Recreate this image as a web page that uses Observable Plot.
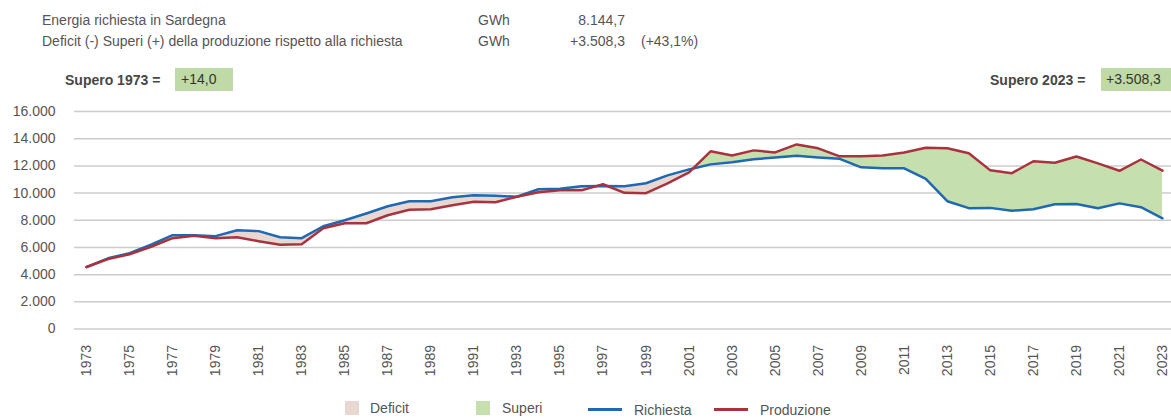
<!DOCTYPE html>
<html>
<head>
<meta charset="utf-8">
<script src="https://cdn.jsdelivr.net/npm/d3@7"></script>
<script src="https://cdn.jsdelivr.net/npm/@observablehq/plot@0.6"></script>
<style>
  html, body { margin: 0; padding: 0; background: #fff; }
  #wrap { position: relative; width: 1171px; height: 418px; overflow: hidden;
          font-family: "Liberation Sans", Arial, sans-serif; color: #555; font-size: 14px; }
  .t { position: absolute; line-height: 16px; white-space: nowrap; }
  .box { position: absolute; background: #bfdaa6; color: #333; line-height: 23px; height: 23px; }
  .sup { font-weight: bold; color: #474747; }
  .sw { position: absolute; width: 14px; height: 14px; }
  .ln { position: absolute; height: 3px; width: 34px; }
  #chart { position: absolute; left: 0; top: 95px; }
</style>
</head>
<body>
<div id="wrap">
  <div class="t" style="left:42px; top:12px;">Energia richiesta in Sardegna</div>
  <div class="t" style="left:478px; top:12px;">GWh</div>
  <div class="t" style="left:540px; top:12px; width:85px; text-align:right;">8.144,7</div>
  <div class="t" style="left:42px; top:33px;">Deficit (-) Superi (+) della produzione rispetto alla richiesta</div>
  <div class="t" style="left:478px; top:33px;">GWh</div>
  <div class="t" style="left:540px; top:33px; width:85px; text-align:right;">+3.508,3</div>
  <div class="t" style="left:641px; top:33px;">(+43,1%)</div>

  <div class="t sup" style="left:65px; top:72px;">Supero 1973 =</div>
  <div class="box" style="left:175px; top:68px; width:58px;"><span style="padding-left:6px">+14,0</span></div>
  <div class="t sup" style="left:990px; top:72px;">Supero 2023 =</div>
  <div class="box" style="left:1101px; top:68px; width:80px;"><span style="padding-left:5px">+3.508,3</span></div>

  <div id="chart"></div>

  <div class="sw" style="left:345px; top:401px; background:#e9d8d2;"></div>
  <div class="t" style="left:370px; top:400px;">Deficit</div>
  <div class="sw" style="left:476px; top:401px; background:#c6dfae;"></div>
  <div class="t" style="left:502px; top:400px;">Superi</div>
  <div class="ln" style="left:588px; top:408px; background:#1f68b2;"></div>
  <div class="t" style="left:634px; top:402px;">Richiesta</div>
  <div class="ln" style="left:714px; top:408px; background:#a8333f;"></div>
  <div class="t" style="left:760px; top:402px;">Produzione</div>
</div>
<script>
const years = d3.range(1973, 2024);
const richiesta = [
  4550, 5200, 5580, 6200, 6900, 6900, 6830, 7270, 7200, 6750,
  6680, 7560, 8000, 8500, 9030, 9400, 9400, 9690, 9840, 9800,
  9730, 10280, 10310, 10500, 10520, 10500, 10720, 11300, 11740, 12110,
  12260, 12480, 12620, 12740, 12620, 12520, 11890, 11820, 11820, 11040,
  9400, 8890, 8910, 8700, 8810, 9180, 9190, 8880, 9240, 8960,
  8144.7
];
const produzione = [
  4564, 5150, 5500, 6050, 6680, 6860, 6680, 6750, 6460, 6200,
  6240, 7410, 7780, 7780, 8370, 8770, 8810, 9100, 9360, 9320,
  9730, 10060, 10200, 10200, 10650, 10020, 9990, 10720, 11520, 13070,
  12770, 13140, 12990, 13580, 13290, 12700, 12700, 12770, 12990, 13340,
  13300, 12930, 11670, 11460, 12340, 12230, 12690, 12180, 11640, 12470,
  11653
];
const yTicks = [0, 2000, 4000, 6000, 8000, 10000, 12000, 14000, 16000];
const xTicks = d3.range(1973, 2024, 2);

const data = years.map((y, i) => ({year: y, richiesta: richiesta[i], produzione: produzione[i]}));
const itFmt = d3.formatLocale({decimal: ",", thousands: ".", grouping: [3], currency: ["", "€"]}).format(",");

const colSuperi = "#c6dfae", colDeficit = "#e9d8d2";
let fillMarks;
if (Plot.differenceY) {
  fillMarks = [Plot.differenceY(data, {
    x: "year", y1: "richiesta", y2: "produzione",
    positiveFill: colSuperi, negativeFill: colDeficit,
    positiveFillOpacity: 1, negativeFillOpacity: 1, stroke: "none"
  })];
} else {
  fillMarks = [
    Plot.areaY(data, {x: "year", y1: "richiesta", y2: d => Math.max(d.richiesta, d.produzione), fill: colSuperi}),
    Plot.areaY(data, {x: "year", y1: "produzione", y2: d => Math.max(d.richiesta, d.produzione), fill: colDeficit})
  ];
}

const chart = Plot.plot({
  width: 1171,
  height: 290,
  marginLeft: 74,
  marginRight: 0,
  marginTop: 16,
  marginBottom: 56.5,
  style: {fontSize: "14px", fontFamily: "Liberation Sans, Arial, sans-serif", color: "#555", background: "transparent"},
  x: {domain: [1972.4424, 2023.418], ticks: xTicks, tickFormat: d => String(d), tickRotate: -90, tickSize: 0, tickPadding: 16, label: null},
  y: {domain: [0, 16000], ticks: yTicks, tickFormat: itFmt, tickSize: 0, tickPadding: 19, label: null},
  marks: [
    Plot.ruleY(yTicks, {stroke: "#cccccc", strokeWidth: 1.5}),
    ...fillMarks,
    Plot.lineY(data, {x: "year", y: "richiesta", stroke: "#1f68b2", strokeWidth: 2.5}),
    Plot.lineY(data, {x: "year", y: "produzione", stroke: "#a8333f", strokeWidth: 2.5})
  ]
});
document.getElementById("chart").appendChild(chart);
</script>
</body>
</html>
